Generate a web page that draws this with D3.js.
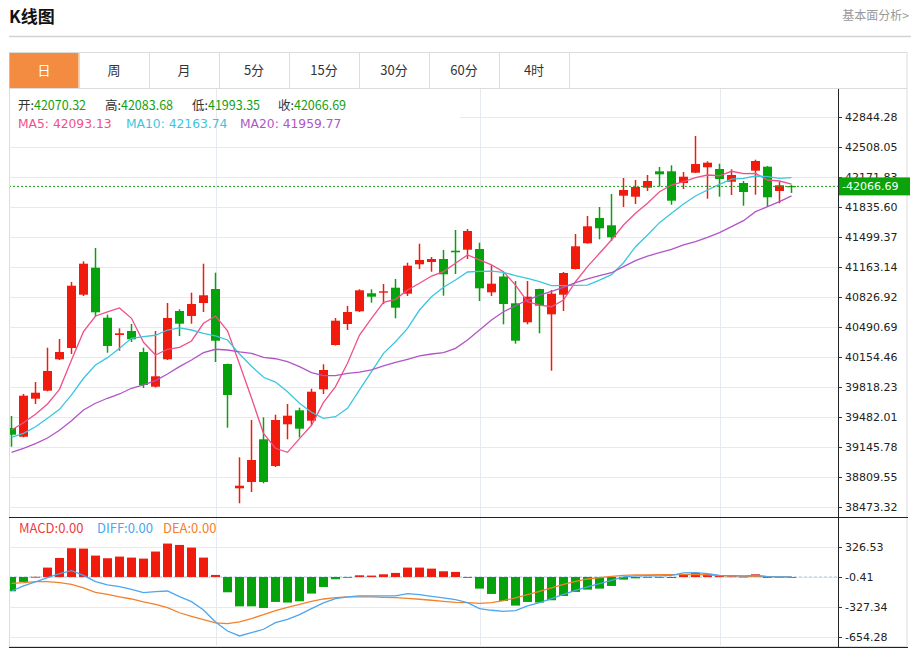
<!DOCTYPE html>
<html><head><meta charset="utf-8">
<script src="https://cdn.jsdelivr.net/npm/d3@7"></script>
<style>
body{margin:0;background:#fff;}
svg{display:block;font-family:"Microsoft YaHei","Noto Sans CJK SC","Noto Sans",sans-serif;}
</style></head><body>
<svg id="c" width="911" height="649"></svg>
<script>
const tabs = ["日","周","月","5分","15分","30分","60分","4时"];
const priceTicks = [42844.28,42508.05,42171.83,41835.60,41499.37,41163.14,40826.92,40490.69,40154.46,39818.23,39482.01,39145.78,38809.55,38473.32];
const macdTicks = [326.53,-0.41,-327.34,-654.28];
const monthStarts = [17,39,59];

const openS = [39358.7,39261.2,39687.1,39776.8,40128.7,40255.3,40852.7,41155.3,40594.9,40401.0,40445.9,40210.5,39821.6,40128.7,40670.0,40614.0,40759.7,40916.6,40076.0,38682.9,38753.5,39232.1,38932.8,39400.2,39557.1,39440.5,39792.4,40288.9,40524.3,40666.6,40868.4,40875.1,40931.1,40863.9,41193.4,41219.2,41252.8,41345.8,41357.0,41364.9,40879.6,41056.7,40756.3,40543.4,40916.6,40633.0,40852.7,41140.7,41428.8,41712.3,41630.5,41962.3,41951.0,42051.9,42235.7,42235.7,42104.6,42220.0,42280.5,42261.5,42119.2,42104.6,42242.4,42287.3,42014.9,42070.32];
const highS = [39493.2,39739.8,39874.3,40258.7,40356.2,40995.0,41227.0,41376.1,40628.5,40476.1,40524.3,40258.7,40445.9,40759.7,40689.1,40875.1,41200.1,41099.3,40080.0,39030.3,39448.4,39478.6,39507.8,39627.7,39586.2,39799.2,40072.6,40591.6,40726.0,40913.2,40913.2,40972.6,41028.7,41211.3,41424.3,41275.2,41353.7,41577.8,41589.0,41435.5,41182.2,41092.5,41006.2,41006.2,40920.0,40905.4,41107.1,41533.0,41734.7,41835.6,41981.3,42160.6,42138.2,42194.3,42283.9,42303.0,42227.9,42631.4,42347.8,42320.9,42258.1,42127.0,42365.7,42295.0,42119.2,42083.68];
const lowS = [39149.1,39254.5,39627.7,39770.0,40120.8,40188.1,40838.1,40606.1,40202.7,40225.1,40322.6,39807.0,39812.6,40120.8,40389.8,40527.7,40658.8,40098.4,39362.1,38514.8,38641.4,38738.9,38921.6,39232.1,39254.5,39392.3,39739.8,40283.3,40457.1,40658.8,40763.0,40748.5,40588.2,40838.1,41140.7,41110.5,40841.5,41084.7,41252.8,40782.1,40838.1,40520.9,40303.5,40520.9,40420.1,40000.9,40670.0,41135.0,41425.0,41473.6,41454.5,41835.6,41869.2,42014.9,42063.1,41861.4,42037.3,42216.0,41928.6,41951.0,41970.1,41850.2,41973.5,41839.0,41877.1,41993.35];
const closeS = [39283.6,39720.7,39754.3,39997.5,40210.5,40953.6,41200.1,40655.4,40277.7,40420.1,40352.8,39840.6,39938.1,40591.6,40527.7,40748.5,40846.0,40337.1,39728.6,38712.0,39000.1,38753.5,39448.4,39496.6,39350.9,39765.5,40008.8,40561.3,40658.8,40902.0,40830.3,40890.8,40707.0,41177.7,41241.6,41252.8,41081.3,41327.9,41566.6,40924.4,40976.0,40748.5,40337.1,40830.3,40729.4,40863.9,41095.9,41395.1,41619.3,41596.9,41496.0,42026.1,42059.8,42127.0,42202.1,41906.2,42175.2,42317.5,42332.1,42149.4,42194.3,42003.7,42351.2,41944.3,42078.8,42066.69];

const ma5 = [39336,39418,39512,39628,39792,40121,40438,40614,40659,40704,40588,40319,40177,40241,40263,40334,40532,40614,40449,40076,39695,39299,39131,39086,39239,39389,39645,39822,40084,40401,40588,40768,40801,40905,40981,41062,41111,41205,41298,41242,41186,41111,40961,40774,40737,40718,40793,40998,41167,41317,41466,41634,41765,41877,42007,42082,42119,42164,42194,42186,42236,42209,42213,42138,42127,42093.13];
const ma10 = [39254,39299,39373,39467,39568,39729,39916,40065,40147,40252,40364,40382,40398,40457,40480,40457,40420,40390,40345,40188,40050,39927,39874,39766,39636,39535,39467,39485,39580,39785,39990,40196,40326,40476,40681,40830,40936,41017,41107,41115,41118,41104,41066,41036,40998,40954,40954,40958,40961,41017,41077,41211,41391,41522,41660,41765,41869,41959,42026,42090,42149,42157,42183,42175,42157,42163.74];
const ma20 = [39086,39131,39183,39247,39333,39440,39560,39636,39692,39740,39804,39841,39889,39964,40046,40121,40203,40241,40233,40211,40196,40151,40135,40102,40046,39979,39945,39945,39972,39986,40009,40054,40095,40129,40166,40188,40203,40252,40345,40457,40569,40662,40729,40793,40849,40891,40936,40987,41029,41066,41099,41167,41234,41286,41323,41361,41410,41447,41496,41548,41615,41682,41783,41839,41895,41959.77];

const macdHist = [-156,-54,2,102,207,313,309,233,204,222,211,200,277,364,349,320,211,22,-167,-320,-320,-338,-272,-279,-265,-181,-109,-25,-5,18,15,29,44,102,102,91,62,55,0,-127,-185,-262,-312,-272,-279,-254,-207,-163,-138,-127,-98,-29,-15,-8,-4,-11,25,44,29,18,7,4,29,-11,-4,0];
const diffS = [-153,-98,-54,-7,36,69,18,-51,-87,-106,-135,-171,-160,-153,-215,-269,-360,-490,-589,-643,-607,-570,-498,-461,-411,-345,-283,-236,-218,-207,-207,-207,-207,-182,-193,-211,-229,-247,-280,-345,-363,-374,-367,-316,-280,-236,-189,-145,-109,-73,-36,0,11,15,11,18,44,47,36,18,15,11,18,4,0,0];
const deaS = [-69,-62,-51,-51,-62,-80,-120,-167,-189,-217,-240,-271,-298,-335,-390,-429,-465,-501,-509,-490,-454,-411,-367,-331,-298,-265,-240,-225,-218,-218,-218,-222,-225,-233,-243,-254,-265,-276,-280,-287,-280,-258,-229,-193,-156,-120,-80,-47,-22,-7,7,18,22,22,25,25,25,25,22,15,11,7,7,4,0,0];

const lastPrice = 42066.69;

const RED = "#f01a0d", GREEN = "#05a30b";
const C_MA5 = "#f0508a", C_MA10 = "#3cc6de", C_MA20 = "#b155c6";
const C_DIFF = "#4ca6f0", C_DEA = "#f5802a", C_MACD = "#f03c3c";

const svg = d3.select("#c");
const N = closeS.length;
const data = d3.range(N).map(i => ({i, o: openS[i], h: highS[i], l: lowS[i], c: closeS[i]}));

const x = d3.scaleLinear().domain([0, N - 1]).range([11.5, 791.5]);
const y = d3.scaleLinear().domain([38473.32, 42844.28]).range([507, 117]);
const ym = d3.scaleLinear().domain([-654.28, 326.53]).range([637, 547]);

const L = 9, R = 838, RB = 907;

// header
svg.append("text").attr("x", 9).attr("y", 23).attr("font-size", 17).attr("font-weight", "bold").attr("fill", "#111").text("K线图");
svg.append("text").attr("x", 909).attr("y", 20).attr("text-anchor", "end").attr("font-size", 12).attr("fill", "#999").text("基本面分析>");
svg.append("line").attr("x1", 9).attr("x2", 911).attr("y1", 36.5).attr("y2", 36.5).attr("stroke", "#d2d2d2").attr("stroke-width", 1.5);

// outer box
svg.append("rect").attr("x", L + 0.5).attr("y", 52.5).attr("width", RB - L - 0.5).attr("height", 594).attr("fill", "none").attr("stroke", "#dcdcdc");

// tabs
const tw = 70;
const tg = svg.append("g");
tabs.forEach((t, k) => {
  const x0 = L + k * tw;
  if (k === 0) tg.append("rect").attr("x", x0 + 0.5).attr("y", 53).attr("width", tw - 1).attr("height", 35).attr("fill", "#f38b40");
  tg.append("line").attr("x1", x0 + tw + 0.5).attr("x2", x0 + tw + 0.5).attr("y1", 52).attr("y2", 88).attr("stroke", "#dcdcdc");
  tg.append("text").attr("x", x0 + tw / 2).attr("y", 75).attr("text-anchor", "middle").attr("font-size", 13)
    .attr("fill", k === 0 ? "#fff" : "#333").text(t);
});
svg.append("line").attr("x1", L).attr("x2", RB).attr("y1", 88.5).attr("y2", 88.5).attr("stroke", "#dcdcdc");

// grid
const grid = svg.append("g");
priceTicks.forEach((v, k) => grid.append("line").attr("x1", k === 0 ? 460 : L).attr("x2", R)
  .attr("y1", Math.round(y(v)) + 0.5).attr("y2", Math.round(y(v)) + 0.5).attr("stroke", "#e5eaf0"));
macdTicks.forEach(v => grid.append("line").attr("x1", L).attr("x2", R).attr("y1", Math.round(ym(v)) + 0.5).attr("y2", Math.round(ym(v)) + 0.5).attr("stroke", "#e5eaf0"));
monthStarts.forEach(i => grid.append("line").attr("x1", Math.round(x(i)) + 0.5).attr("x2", Math.round(x(i)) + 0.5).attr("y1", 89).attr("y2", 647).attr("stroke", "#e5eaf0"));

// clip
const defs = svg.append("defs");
defs.append("clipPath").attr("id", "clipMain").append("rect").attr("x", L + 1).attr("y", 89).attr("width", R - L - 1).attr("height", 428);
defs.append("clipPath").attr("id", "clipMacd").append("rect").attr("x", L + 1).attr("y", 518).attr("width", R - L - 1).attr("height", 129);

const main = svg.append("g").attr("clip-path", "url(#clipMain)");

// candles
const cg = main.selectAll("g.k").data(data).join("g").attr("class", "k");
cg.append("line").attr("x1", d => x(d.i)).attr("x2", d => x(d.i)).attr("y1", d => y(d.h)).attr("y2", d => y(d.l))
  .attr("stroke", d => d.c >= d.o ? RED : GREEN).attr("stroke-width", 1.5);
cg.append("rect").attr("x", d => x(d.i) - 4.5).attr("width", 9)
  .attr("y", d => y(Math.max(d.o, d.c)))
  .attr("height", d => Math.max(1.2, Math.abs(y(d.o) - y(d.c))))
  .attr("fill", d => d.c >= d.o ? RED : GREEN);

// MA lines
const line = d3.line().x((d, i) => x(i)).y(d => y(d));
[[ma5, C_MA5], [ma10, C_MA10], [ma20, C_MA20]].forEach(([arr, col]) => {
  main.append("path").datum(arr).attr("d", line).attr("fill", "none").attr("stroke", col).attr("stroke-width", 1.3);
});

// last price line
main.append("line").attr("x1", L).attr("x2", R).attr("y1", y(lastPrice)).attr("y2", y(lastPrice))
  .attr("stroke", "#1a9e1a").attr("stroke-dasharray", "2,2").attr("stroke-width", 1);

// MACD
const mg = svg.append("g").attr("clip-path", "url(#clipMacd)");
mg.append("line").attr("x1", L).attr("x2", R).attr("y1", ym(0)).attr("y2", ym(0)).attr("stroke", "#a9cde8").attr("stroke-dasharray", "3,2");
mg.selectAll("rect.h").data(macdHist).join("rect").attr("class", "h")
  .attr("x", (d, i) => x(i) - 4.5).attr("width", 9)
  .attr("y", d => Math.min(ym(d), ym(0)))
  .attr("height", d => Math.max(0.8, Math.abs(ym(d) - ym(0))))
  .attr("fill", d => d >= 0 ? RED : GREEN);
const mline = d3.line().x((d, i) => x(i)).y(d => ym(d));
mg.append("path").datum(deaS).attr("d", mline).attr("fill", "none").attr("stroke", C_DEA).attr("stroke-width", 1.3);
mg.append("path").datum(diffS).attr("d", mline).attr("fill", "none").attr("stroke", C_DIFF).attr("stroke-width", 1.3);

// separators
svg.append("line").attr("x1", L).attr("x2", RB + 1).attr("y1", 517.5).attr("y2", 517.5).attr("stroke", "#222");
svg.append("line").attr("x1", L).attr("x2", RB + 1).attr("y1", 647.5).attr("y2", 647.5).attr("stroke", "#222");
svg.append("line").attr("x1", R + 0.5).attr("x2", R + 0.5).attr("y1", 89).attr("y2", 648).attr("stroke", "#222");

// axes
const ax = svg.append("g").attr("transform", `translate(${R},0)`)
  .call(d3.axisRight(y).tickValues(priceTicks).tickFormat(d => d.toFixed(2)).tickSize(4).tickPadding(3));
const axm = svg.append("g").attr("transform", `translate(${R},0)`)
  .call(d3.axisRight(ym).tickValues(macdTicks).tickFormat(d => d.toFixed(2)).tickSize(4).tickPadding(3));
[ax, axm].forEach(a => {
  a.select(".domain").remove();
  a.selectAll("text").attr("font-family", "'DejaVu Sans', Verdana, sans-serif").attr("font-size", 11).attr("fill", "#222");
  a.selectAll("line").attr("stroke", "#333");
});

// last price label
svg.append("rect").attr("x", R + 1).attr("y", y(lastPrice) - 9).attr("width", RB - R + 2).attr("height", 18).attr("fill", "#0aa30a");
svg.append("text").attr("x", R + 4).attr("y", y(lastPrice)).attr("dy", "0.36em")
  .attr("font-family", "'DejaVu Sans', Verdana, sans-serif").attr("font-size", 11).attr("fill", "#fff").text("-" + lastPrice.toFixed(2));

// legends
const lg = svg.append("g").attr("font-size", 12.5);
const ohlc = [["开", openS[N - 1], 18], ["高", highS[N - 1], 105], ["低", lowS[N - 1], 192], ["收", closeS[N - 1], 278]];
ohlc.forEach(([k, v, px]) => {
  const t = lg.append("text").attr("x", px).attr("y", 110);
  t.append("tspan").attr("fill", "#333").text(k + ":");
  t.append("tspan").attr("fill", "#12a012").text(v.toFixed(2));
});
[["MA5", ma5, C_MA5, 18], ["MA10", ma10, C_MA10, 126], ["MA20", ma20, C_MA20, 240]].forEach(([k, arr, col, px]) => {
  lg.append("text").attr("x", px).attr("y", 128).attr("fill", col)
    .attr("font-family", "'DejaVu Sans', Verdana, sans-serif").attr("font-size", 12.3)
    .text(`${k}: ${arr[N - 1].toFixed(2)}`);
});
[["MACD", C_MACD, 19], ["DIFF", C_DIFF, 97], ["DEA", C_DEA, 163]].forEach(([k, col, px]) => {
  lg.append("text").attr("x", px).attr("y", 533).attr("fill", col).attr("font-size", 13).text(`${k}:0.00`);
});
</script>
</body></html>
